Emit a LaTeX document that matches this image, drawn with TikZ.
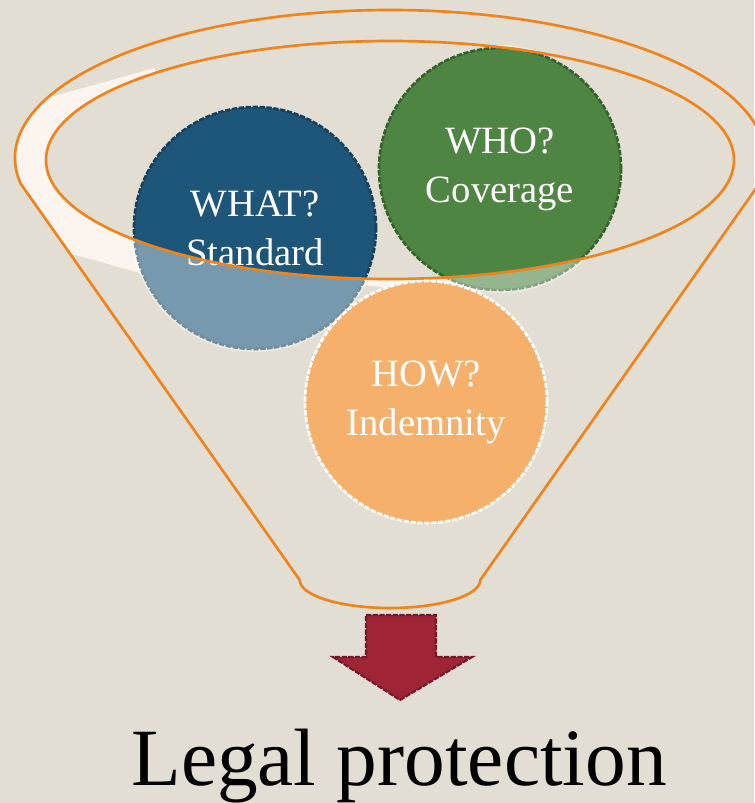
\documentclass[tikz,border=0pt]{standalone}
\usepackage{fontspec}
\setmainfont{Liberation Serif}
\definecolor{paper}{HTML}{E3DED3}
\definecolor{rimorange}{HTML}{F0841C}
\definecolor{rimlight}{HTML}{FBF4EF}
\definecolor{whatblue}{HTML}{1D5679}
\definecolor{whatedge}{HTML}{16405C}
\definecolor{whogreen}{HTML}{4E8542}
\definecolor{whoedge}{HTML}{33622C}
\definecolor{howorange}{HTML}{F5B16B}
\definecolor{arrowred}{HTML}{9E2436}
\definecolor{arrowedge}{HTML}{741828}
\begin{document}
\begin{tikzpicture}[x=0.75pt,y=-0.75pt,
  rimline/.style={draw=rimorange, line width=2pt},
  bubble/.style={circle, minimum size=181.5pt, inner sep=0pt, line width=2pt,
    dash pattern=on 4pt off 1.2pt, text=white, align=center,
    font=\fontsize{29}{36.75}\selectfont},
  downarrow/.style={fill=arrowred, draw=arrowedge, line width=1.6pt,
    dash pattern=on 4pt off 1pt, line join=miter}]
\useasboundingbox (0,0) rectangle (754,803);
\fill[paper] (0,0) rectangle (754,803);

% light inner face of the rim, front-left side
\begin{scope}
  \clip (20.7,183.7) arc[start angle=170, end angle=370, x radius=375, y radius=148]
    -- (480.3,580) arc[start angle=0, end angle=180, x radius=90.3, y radius=28] -- cycle;
  \clip (155,68) -- (40,100) -- (-20,110) -- (-20,250) -- (69,253) -- (140,273)
    -- (365,285) -- (470,298) -- (470,200) -- (160,200) -- cycle;
  \fill[rimlight, even odd rule] (-20,-20) rectangle (780,820)
    (390,160) ellipse[x radius=344, y radius=119];
\end{scope}

% the two balls sitting in the mouth of the funnel
\node[bubble, fill=whatblue, draw=whatedge] (what) at (255,228) {WHAT?\\Standard};
\node[bubble, fill=whogreen, draw=whoedge] (who) at (500,169) {WHO?\\Coverage};

% parts of the balls seen through the funnel wall
\begin{scope}
  \clip (what.center) circle (124) (who.center) circle (124);
  \fill[white, opacity=0.4, even odd rule] (-20,-20) rectangle (780,820)
    (390,160) ellipse[x radius=344, y radius=119];
\end{scope}

% funnel outline and its inner rim
\draw[rimline, line join=round] (20.7,183.7)
  arc[start angle=170, end angle=370, x radius=375, y radius=148]
  -- (480.3,580) arc[start angle=0, end angle=180, x radius=90.3, y radius=28] -- cycle;
\draw[rimline] (390,160) ellipse[x radius=344, y radius=119];

% ball inside the funnel
\node[bubble, fill=howorange, draw=white] (how) at (426,402) {HOW?\\Indemnity};

% outlet arrow
\draw[downarrow] (366,615) -- (436,615) -- (436,657) -- (472,657) -- (400,700)
  -- (333,657) -- (366,657) -- cycle;

\node[anchor=base, font=\fontsize{61}{72}\selectfont] (result) at (399,785) {Legal protection};
\end{tikzpicture}
\end{document}
